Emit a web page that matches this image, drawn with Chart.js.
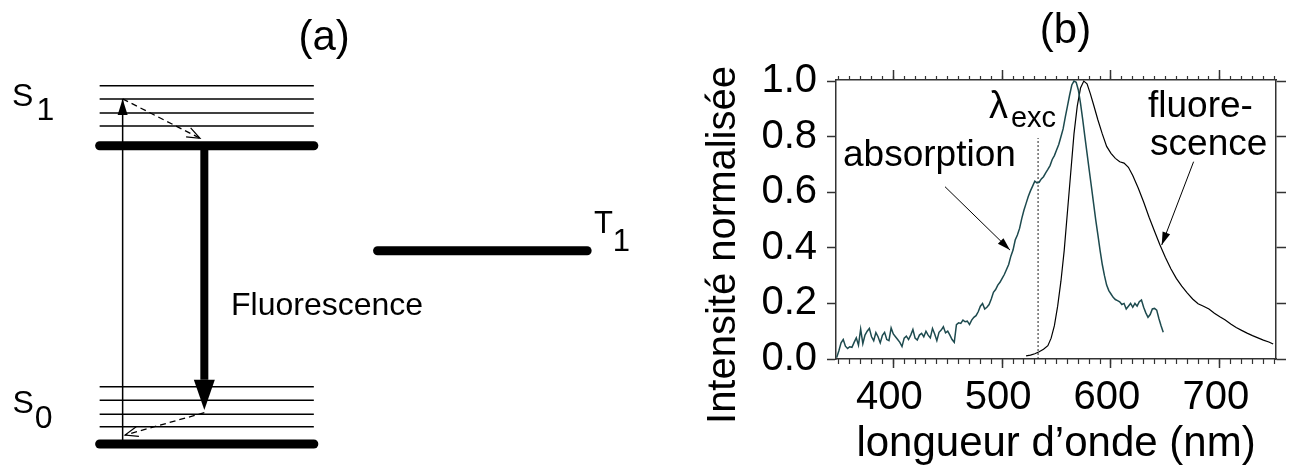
<!DOCTYPE html>
<html>
<head>
<meta charset="utf-8">
<title>Absorption et fluorescence</title>
<script src="https://cdn.jsdelivr.net/npm/chart.js@4/dist/chart.umd.min.js"></script>
<style>
  html, body { margin: 0; padding: 0; background: #fff; }
  body { width: 1291px; height: 468px; position: relative; overflow: hidden; }
  canvas { position: absolute; top: 0; }
  #diagram { left: 0; }
  #spectra { left: 650px; }
</style>
</head>
<body>
<canvas id="diagram" width="650" height="468"></canvas>
<canvas id="spectra" width="641" height="468"></canvas>
<script>
// ========== DATA ==========

// (a) energy levels, in units of the S0 -> S1 gap (first entry = ground level)
const s0Levels = [0, 0.058, 0.100, 0.147, 0.192];
const s1Levels = [1.0, 1.066, 1.110, 1.157, 1.201];
const t1Levels = [0.648];

// (b) absorption spectrum (nm, normalised)
const absWavelength = [
  348, 350, 352, 354, 356, 358, 360, 362, 364, 366,
  368, 370, 372, 374, 376, 378, 380, 382, 384, 386,
  388, 390, 392, 394, 396, 398, 400, 402, 404, 406,
  408, 410, 412, 414, 416, 418, 420, 422, 424, 426,
  428, 430, 432, 434, 436, 438, 440, 442, 444, 446,
  448, 450, 452, 454, 456, 458, 460, 462, 464, 466,
  468, 470, 472, 474, 476, 478, 480, 482, 484, 486,
  488, 490, 492, 494, 496, 498, 500, 502, 504, 506,
  508, 510, 512, 514, 516, 518, 520, 522, 524, 526,
  528, 530, 532, 534, 536, 538, 540, 542, 544, 546,
  548, 550, 552, 554, 556, 558, 560, 562, 564, 566,
  568, 570, 572, 574, 576, 578, 580, 582, 584, 586,
  588, 590, 592, 594, 596, 598, 600, 602, 604, 606,
  608, 610, 612, 614, 616, 618, 620, 622, 624, 626,
  628, 630, 632, 634, 636, 638, 640, 642, 644, 646,
  648
];
const absIntensity = [
  0.005, 0.030, 0.058, 0.070, 0.046, 0.038, 0.044, 0.042, 0.060, 0.076,
  0.050, 0.108, 0.055, 0.086, 0.100, 0.110, 0.080, 0.066, 0.095, 0.080,
  0.058, 0.085, 0.096, 0.070, 0.066, 0.112, 0.090, 0.080, 0.070, 0.060,
  0.045, 0.075, 0.082, 0.070, 0.086, 0.106, 0.075, 0.068, 0.086, 0.092,
  0.080, 0.100, 0.086, 0.076, 0.110, 0.090, 0.066, 0.096, 0.104, 0.116,
  0.094, 0.100, 0.086, 0.070, 0.060, 0.124, 0.130, 0.128, 0.140, 0.134,
  0.136, 0.124, 0.140, 0.150, 0.156, 0.170, 0.190, 0.200, 0.180, 0.186,
  0.196, 0.216, 0.240, 0.250, 0.266, 0.276, 0.290, 0.304, 0.322, 0.340,
  0.370, 0.392, 0.428, 0.446, 0.470, 0.505, 0.535, 0.560, 0.585, 0.605,
  0.622, 0.640, 0.634, 0.636, 0.648, 0.656, 0.670, 0.682, 0.696, 0.718,
  0.732, 0.752, 0.772, 0.800, 0.828, 0.870, 0.910, 0.950, 0.986, 1.000,
  0.996, 0.968, 0.920, 0.862, 0.800, 0.740, 0.680, 0.620, 0.560, 0.500,
  0.446, 0.390, 0.340, 0.300, 0.266, 0.246, 0.234, 0.222, 0.214, 0.210,
  0.206, 0.196, 0.200, 0.180, 0.190, 0.200, 0.186, 0.200, 0.190, 0.206,
  0.212, 0.186, 0.166, 0.150, 0.160, 0.180, 0.182, 0.176, 0.146, 0.120,
  0.096
];

// (b) fluorescence spectrum (nm, normalised)
const fluoWavelength = [
  522, 526, 530, 534, 538, 542, 545, 548, 551, 554,
  557, 560, 563, 566, 569, 572, 575, 578, 581, 584,
  588, 592, 596, 600, 604, 608, 612, 616, 620, 625,
  630, 635, 640, 645, 650, 655, 660, 665, 670, 675,
  680, 685, 690, 695, 700, 705, 710, 715, 720, 725,
  730, 735, 740, 745, 749
];
const fluoIntensity = [
  0.011, 0.014, 0.019, 0.026, 0.035, 0.048, 0.075, 0.120, 0.190, 0.280,
  0.390, 0.530, 0.670, 0.810, 0.910, 0.975, 1.000, 0.990, 0.955, 0.915,
  0.860, 0.810, 0.765, 0.740, 0.722, 0.710, 0.705, 0.690, 0.660, 0.615,
  0.565, 0.510, 0.460, 0.410, 0.365, 0.325, 0.290, 0.262, 0.238, 0.216,
  0.199, 0.190, 0.180, 0.165, 0.152, 0.140, 0.126, 0.113, 0.103, 0.093,
  0.084, 0.076, 0.068, 0.061, 0.054
];

const excWavelength = 533;
const xTickValues = [400, 500, 600, 700];
const yTickValues = [0, 0.2, 0.4, 0.6, 0.8, 1.0];

// ========== SHARED HELPERS ==========
const FONT = '"Liberation Sans", Arial, Helvetica, sans-serif';
const AXIS_COLOR = '#333';
const ABS_COLOR = '#1d4a4e';

Chart.defaults.font.family = FONT;
Chart.defaults.color = '#000';

function segment(points) {
  return points.map(p => ({ x: p[0], y: p[1] }));
}

// arrow heads for datasets that carry a `head` option
const arrowHeads = {
  id: 'arrowHeads',
  afterDatasetsDraw(chart) {
    const { ctx, scales: { x, y } } = chart;
    chart.data.datasets.forEach(ds => {
      const head = ds.head;
      if (!head) return;
      const pts = ds.data;
      const last = pts[pts.length - 1];
      let bx = x.getPixelForValue(last.x), by = y.getPixelForValue(last.y);
      let tx, ty;
      if (head.tip) {
        tx = x.getPixelForValue(head.tip[0]);
        ty = y.getPixelForValue(head.tip[1]);
      } else {
        const prev = pts[pts.length - 2];
        const px = x.getPixelForValue(prev.x), py = y.getPixelForValue(prev.y);
        const len = Math.hypot(bx - px, by - py);
        tx = bx; ty = by;
        bx = tx - (bx - px) / len * head.length;
        by = ty - (by - py) / len * head.length;
      }
      const dl = Math.hypot(tx - bx, ty - by);
      const nx = -(ty - by) / dl * head.width / 2;
      const ny = (tx - bx) / dl * head.width / 2;
      ctx.save();
      ctx.setLineDash([]);
      ctx.fillStyle = ctx.strokeStyle = '#000';
      ctx.beginPath();
      ctx.moveTo(bx + nx, by + ny);
      ctx.lineTo(tx, ty);
      ctx.lineTo(bx - nx, by - ny);
      if (head.style === 'open') {
        ctx.lineWidth = 1.2;
        ctx.stroke();
      } else {
        ctx.closePath();
        ctx.fill();
      }
      ctx.restore();
    });
  }
};

// text placed in data units; optional subscript
const textLabels = {
  id: 'textLabels',
  afterDraw(chart, args, opts) {
    const { ctx, scales: { x, y } } = chart;
    ctx.save();
    ctx.fillStyle = '#000';
    ctx.textBaseline = 'alphabetic';
    (opts.items || []).forEach(l => {
      const px = x.getPixelForValue(l.x), py = y.getPixelForValue(l.y);
      ctx.font = `${l.size}px ${FONT}`;
      ctx.textAlign = l.align || 'left';
      ctx.fillText(l.text, px, py);
      if (l.sub) {
        const w = ctx.measureText(l.text).width;
        ctx.font = `${l.subSize || l.size}px ${FONT}`;
        ctx.textAlign = 'left';
        ctx.fillText(l.sub, px + w + l.subGap, py + l.subDrop);
      }
    });
    ctx.restore();
  }
};

// ========== (a) JABLONSKI DIAGRAM ==========
const singletSpan = [0.012, 0.99];
const tripletSpan = [1.281, 2.238];

function levelLine(energy, span, thick) {
  return {
    data: segment([[span[0], energy], [span[1], energy]]),
    borderColor: '#000',
    borderWidth: thick ? 9 : 1.5,
    borderCapStyle: thick ? 'round' : 'butt'
  };
}

const diagramSets = [
  ...s0Levels.map((e, i) => levelLine(e, singletSpan, i === 0)),
  ...s1Levels.map((e, i) => levelLine(e, singletSpan, i === 0)),
  ...t1Levels.map(e => levelLine(e, tripletSpan, true)),
  { // absorption S0 -> S1 (v=3)
    data: segment([[0.117, s0Levels[0]], [0.117, s1Levels[3]]]),
    borderColor: '#000', borderWidth: 1.5,
    head: { style: 'filled', length: 16, width: 10 }
  },
  { // vibrational relaxation in S1
    data: segment([[0.117, s1Levels[3]], [0.470, 1.025]]),
    borderColor: '#000', borderWidth: 1.3, borderDash: [6, 4],
    head: { style: 'open', length: 13, width: 10 }
  },
  { // fluorescence S1 -> S0
    data: segment([[0.490, s1Levels[0]], [0.490, 0.215]]),
    borderColor: '#000', borderWidth: 8,
    head: { style: 'filled', width: 21, tip: [0.490, 0.114] }
  },
  { // vibrational relaxation in S0
    data: segment([[0.490, 0.105], [0.128, 0.030]]),
    borderColor: '#000', borderWidth: 1.3, borderDash: [6, 4],
    head: { style: 'open', length: 13, width: 10 }
  }
];

new Chart(document.getElementById('diagram'), {
  type: 'scatter',
  data: {
    datasets: diagramSets.map(d => Object.assign({ showLine: true, pointRadius: 0, tension: 0 }, d))
  },
  options: {
    responsive: false,
    animation: false,
    events: [],
    layout: { padding: 0 },
    plugins: {
      legend: { display: false },
      tooltip: { enabled: false },
      textLabels: {
        items: [
          { text: '(a)', x: 1.037, y: 1.3225, size: 42, align: 'center' },
          { text: 'S', sub: '1', x: -0.388, y: 1.133, size: 32, subGap: 3, subDrop: 14 },
          { text: 'S', sub: '0', x: -0.386, y: 0.103, size: 32, subGap: 1, subDrop: 15 },
          { text: 'T', sub: '1', x: 2.269, y: 0.707, size: 31, subGap: 0, subDrop: 17.5 },
          { text: 'Fluorescence', x: 0.612, y: 0.4325, size: 32 }
        ]
      }
    },
    scales: {
      x: { type: 'linear', display: false, min: -0.443, max: 2.525 },
      y: { type: 'linear', display: false, min: -0.0805, max: 1.4885 }
    }
  },
  plugins: [arrowHeads, textLabels]
});

// ========== (b) SPECTRA ==========
const X_MIN = 347.35, X_MAX = 751.6;
const Y_MIN = 0, Y_MAX = 1.004;

const minorTicks = [];
for (let v = 350; v <= 750; v += 10) minorTicks.push({ value: v });

function setTicks(list) {
  return scale => { scale.ticks = list.map(v => (typeof v === 'number' ? { value: v } : v)); };
}

function tickGrid(length, width) {
  return { drawOnChartArea: false, tickLength: length, tickWidth: width, tickColor: AXIS_COLOR };
}

const yAxisTitle = {
  id: 'yAxisTitle',
  afterDraw(chart) {
    const { ctx, chartArea } = chart;
    ctx.save();
    ctx.translate(chartArea.left - 101, chartArea.bottom - 114);
    ctx.rotate(-Math.PI / 2);
    ctx.font = `40px ${FONT}`;
    ctx.fillStyle = '#000';
    ctx.textAlign = 'center';
    ctx.textBaseline = 'alphabetic';
    ctx.fillText('Intensité normalisée', 0, 0);
    ctx.restore();
  }
};

new Chart(document.getElementById('spectra'), {
  type: 'scatter',
  data: {
    datasets: [
      {
        label: 'absorption',
        data: absWavelength.map((w, i) => ({ x: w, y: absIntensity[i] })),
        borderColor: ABS_COLOR, borderWidth: 1.5
      },
      {
        label: 'fluorescence',
        data: fluoWavelength.map((w, i) => ({ x: w, y: fluoIntensity[i] })),
        borderColor: '#000', borderWidth: 1.2
      },
      {
        label: 'λexc',
        data: segment([[excWavelength, 0], [excWavelength, 0.795]]),
        borderColor: '#222', borderWidth: 1, borderDash: [2, 2]
      },
      {
        data: segment([[447.5, 0.620], [507.2, 0.392]]),
        borderColor: '#000', borderWidth: 1,
        head: { style: 'filled', length: 13, width: 8 }
      },
      {
        data: segment([[675.9, 0.710], [646.6, 0.410]]),
        borderColor: '#000', borderWidth: 1,
        head: { style: 'filled', length: 13, width: 8 }
      }
    ].map(d => Object.assign({ showLine: true, pointRadius: 0, tension: 0 }, d))
  },
  options: {
    responsive: false,
    animation: false,
    events: [],
    layout: { padding: 0 },
    plugins: {
      legend: { display: false },
      tooltip: { enabled: false },
      textLabels: {
        items: [
          { text: '(b)', x: 558.2, y: 1.136, size: 42, align: 'center' },
          { text: 'absorption', x: 353.8, y: 0.695, size: 37 },
          { text: 'fluore-', x: 634.0, y: 0.871, size: 37 },
          { text: 'scence', x: 635.9, y: 0.734, size: 37 },
          { text: 'λ', sub: 'exc', x: 487.9, y: 0.868, size: 38, subSize: 29, subGap: 3, subDrop: 9 }
        ]
      }
    },
    scales: {
      x: {
        type: 'linear', position: 'bottom', weight: 1, min: X_MIN, max: X_MAX,
        afterBuildTicks: setTicks(xTickValues),
        afterFit: s => { s.height = 109; },
        ticks: { font: { size: 40 }, color: '#000', padding: 6, labelOffset: -4, maxRotation: 0 },
        grid: tickGrid(9, 1.5),
        border: { color: AXIS_COLOR, width: 1.5 },
        title: {
          display: true, text: 'longueur d’onde (nm)', color: '#000',
          font: { size: 42, lineHeight: 1.1 }, padding: 0
        }
      },
      xMinor: {
        type: 'linear', position: 'bottom', weight: 0, min: X_MIN, max: X_MAX,
        afterBuildTicks: setTicks(minorTicks),
        afterFit: s => { s.height = 0; },
        ticks: { display: false },
        grid: tickGrid(5, 1.2),
        border: { display: false }
      },
      xTop: {
        type: 'linear', position: 'top', weight: 1, min: X_MIN, max: X_MAX,
        afterBuildTicks: setTicks(xTickValues),
        afterFit: s => { s.height = 80; },
        ticks: { display: false },
        grid: tickGrid(10, 1.5),
        border: { color: AXIS_COLOR, width: 1.5 }
      },
      xTopMinor: {
        type: 'linear', position: 'top', weight: 0, min: X_MIN, max: X_MAX,
        afterBuildTicks: setTicks(minorTicks),
        afterFit: s => { s.height = 0; },
        ticks: { display: false },
        grid: tickGrid(4, 1.2),
        border: { display: false }
      },
      y: {
        type: 'linear', position: 'left', min: Y_MIN, max: Y_MAX,
        afterBuildTicks: setTicks(yTickValues),
        afterFit: s => { s.width = 186; },
        ticks: { font: { size: 40 }, color: '#000', padding: 10, callback: v => v.toFixed(1) },
        grid: tickGrid(9, 1.5),
        border: { color: AXIS_COLOR, width: 1.5 }
      },
      yRight: {
        type: 'linear', position: 'right', min: Y_MIN, max: Y_MAX,
        afterBuildTicks: setTicks(yTickValues),
        afterFit: s => { s.width = 15; },
        ticks: { display: false },
        grid: tickGrid(10, 1.5),
        border: { color: AXIS_COLOR, width: 1.5 }
      }
    }
  },
  plugins: [arrowHeads, textLabels, yAxisTitle]
});
</script>
</body>
</html>
